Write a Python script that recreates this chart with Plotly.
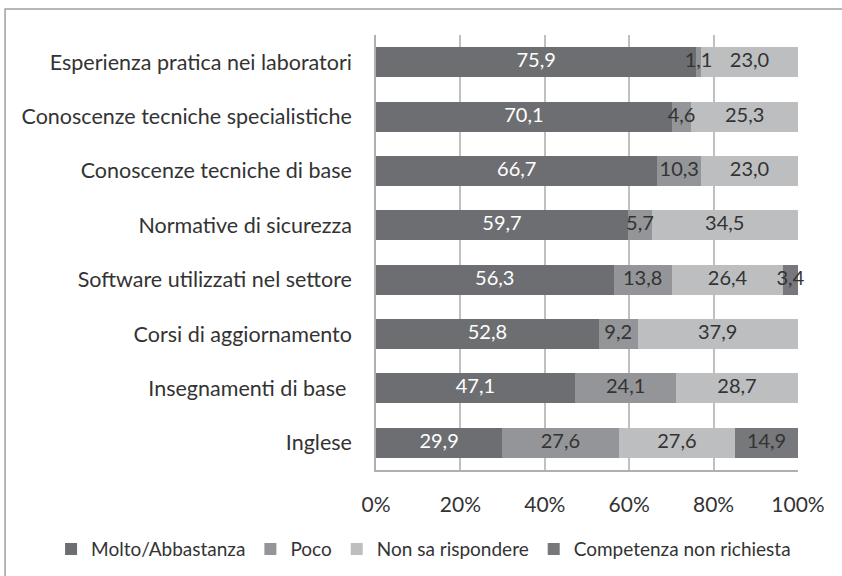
import plotly.graph_objects as go

categories = [
    "Esperienza pratica nei laboratori",
    "Conoscenze tecniche specialistiche",
    "Conoscenze tecniche di base",
    "Normative di sicurezza",
    "Software utilizzati nel settore",
    "Corsi di aggiornamento",
    "Insegnamenti di base ",
    "Inglese",
]
molto = [75.9, 70.1, 66.7, 59.7, 56.3, 52.8, 47.1, 29.9]
poco = [1.1, 4.6, 10.3, 5.7, 13.8, 9.2, 24.1, 27.6]
non_sa = [23.0, 25.3, 23.0, 34.5, 26.4, 37.9, 28.7, 27.6]
non_richiesta = [None, None, None, None, 3.4, None, None, 14.9]
tick_vals = [0, 20, 40, 60, 80, 100]
tick_text = ["0%", "20%", "40%", "60%", "80%", "100%"]

series = [
    ("Molto/Abbastanza", molto, "#6d6e71", "#ffffff"),
    ("Poco", poco, "#939598", "#333333"),
    ("Non sa rispondere", non_sa, "#bcbec0", "#333333"),
    ("Competenza non richiesta", non_richiesta, "#77787b", "#333333"),
]

FONT = "Lato, 'Open Sans', sans-serif"

fig = go.Figure()
for name, vals, color, tcol in series:
    fig.add_trace(go.Bar(
        y=categories, x=vals, name=name, orientation="h",
        marker=dict(color=color, line=dict(width=0)),
        hoverinfo="x+name",
    ))

# value labels drawn on top of all bars, centred on each segment
cum = [0.0] * len(categories)
for name, vals, color, tcol in series:
    xs, ys, ts = [], [], []
    for i, v in enumerate(vals):
        if v is None:
            continue
        xs.append(cum[i] + v / 2)
        ys.append(categories[i])
        ts.append(f"{v:.1f}".replace(".", ","))
        cum[i] += v
    fig.add_trace(go.Scatter(
        x=xs, y=ys, text=ts, mode="text", showlegend=False,
        textfont=dict(color=tcol, size=20, family=FONT),
        hoverinfo="skip", cliponaxis=False,
    ))

fig.update_layout(
    barmode="stack",
    bargap=0.45,
    width=842, height=576,
    margin=dict(l=376, r=44, t=35, b=106, autoexpand=False),
    paper_bgcolor="white", plot_bgcolor="white",
    font=dict(family=FONT, size=20, color="#333333"),
    showlegend=True,
    legend=dict(orientation="h", xref="paper", yref="paper",
                x=-0.77, y=-0.182, xanchor="left", yanchor="middle",
                font=dict(size=19, color="#333333"), traceorder="normal",
                itemwidth=30, tracegroupgap=0),
    xaxis=dict(range=[0, 100], tickvals=tick_vals, ticktext=tick_text,
               showgrid=True, gridcolor="#c0c0c0", gridwidth=1.5,
               showline=True, linecolor="#b0b0b0", linewidth=1.5,
               zeroline=False, ticks="", tickfont=dict(size=21, color="#333333"),
               ticklabelstandoff=15),
    yaxis=dict(autorange="reversed", showline=True, linecolor="#b0b0b0",
               linewidth=1.5, ticks="", showgrid=False,
               tickfont=dict(size=21.5, color="#333333"), ticklabelstandoff=18),
    shapes=[dict(type="rect", xref="paper", yref="paper",
                 x0=-0.879, x1=1.3, y0=-0.5, y1=1.0598,
                 line=dict(color="#a0a0a0", width=1.5), layer="below")],
)

fig.write_html("out.html", config={"displayModeBar": False},
               post_script="document.body.style.margin='0';")
